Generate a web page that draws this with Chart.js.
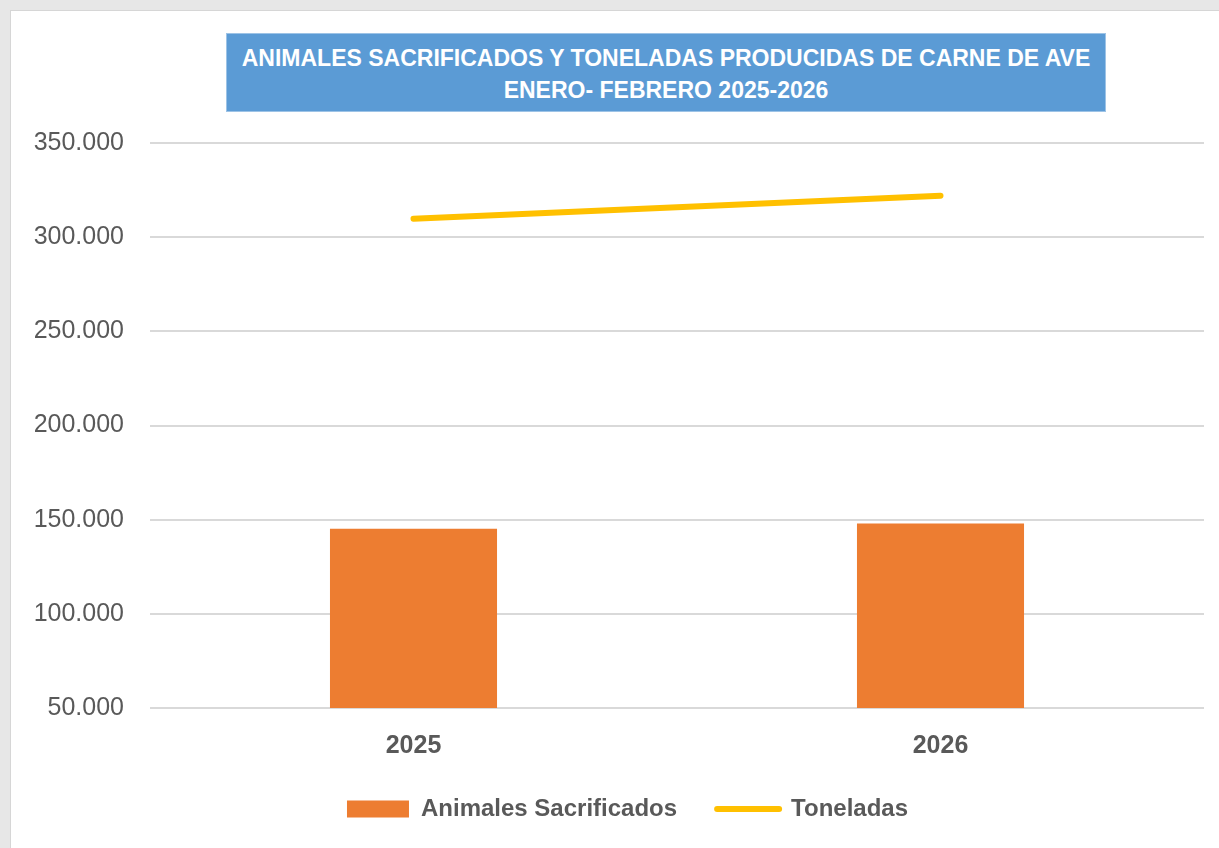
<!DOCTYPE html>
<html lang="es">
<head>
  <meta charset="UTF-8" />
  <title>Animales sacrificados y toneladas de carne de ave</title>
  <script src="https://cdn.jsdelivr.net/npm/chart.js"></script>
  <style>
    html, body {
      margin: 0;
      padding: 0;
      background: #e7e7e7;
      font-family: "Liberation Sans", Arial, sans-serif;
    }

    .frame {
      position: absolute;
      left: 10px;
      top: 10px;
      width: 1208px;
      height: 837px;
      background: #ffffff;
      border-left: 1px solid #d6d6d6;
      border-top: 1px solid #d6d6d6;
    }

    .frame canvas {
      position: absolute;
      left: 0;
      top: 0;
    }

    .title-box {
      position: absolute;
      left: 215px;
      top: 22px;
      width: 878px;
      height: 69px;
      padding-top: 8px;
      background: #5b9bd5;
      border: 1px solid #9dc3e6;
      color: #ffffff;
      font-weight: bold;
      font-size: 23px;
      line-height: 32px;
      text-align: center;
    }
  </style>
</head>
<body>
  <div class="frame">
    <canvas id="chart" width="1208" height="837"></canvas>
    <div class="title-box">ANIMALES SACRIFICADOS Y TONELADAS PRODUCIDAS DE CARNE DE AVE<br>ENERO- FEBRERO 2025-2026</div>
  </div>

  <script>
    // datos
    const years = ['2025', '2026'];
    const animales = [145200, 147900];
    const toneladas = [309800, 322000];
    const yTicks = [50000, 100000, 150000, 200000, 250000, 300000, 350000];

    const gray = '#595959';
    const font = '"Liberation Sans", Arial, sans-serif';

    function fmt(v) {
      return String(v).replace(/\B(?=(\d{3})+(?!\d))/g, '.');
    }

    // la leyenda de Excel no está centrada en el lienzo, se mueve un poco a la derecha
    const shiftLegend = {
      id: 'shiftLegend',
      afterLayout(chart) {
        if (chart.legend) {
          chart.legend.left += 20;
          chart.legend.right += 20;
        }
      }
    };

    function drawChart() {
      const ctx = document.getElementById('chart').getContext('2d');

      new Chart(ctx, {
        data: {
          labels: years,
          datasets: [
            {
              type: 'bar',
              label: 'Animales Sacrificados',
              data: animales,
              backgroundColor: '#ed7d31',
              borderWidth: 0,
              categoryPercentage: 1,
              barPercentage: 0.317
            },
            {
              type: 'line',
              label: 'Toneladas',
              data: toneladas,
              borderColor: '#ffc000',
              backgroundColor: '#ffc000',
              borderWidth: 6,
              borderCapStyle: 'round',
              pointRadius: 0,
              tension: 0
            }
          ]
        },
        options: {
          responsive: false,
          animation: false,
          layout: {
            padding: { top: 132, left: 0, right: 15, bottom: 17 }
          },
          scales: {
            x: {
              grid: { display: false, drawTicks: false },
              border: { display: false },
              ticks: {
                color: gray,
                padding: 23,
                font: { family: font, size: 25, weight: 'bold' }
              },
              afterFit: (s) => { s.height = 49; }
            },
            y: {
              min: yTicks[0],
              max: yTicks[yTicks.length - 1],
              afterBuildTicks: (s) => { s.ticks = yTicks.map(v => ({ value: v })); },
              grid: { color: '#d9d9d9', lineWidth: 2, drawTicks: false },
              border: { display: false },
              ticks: {
                color: gray,
                padding: 26,
                font: { family: font, size: 25 },
                callback: (v) => fmt(v)
              },
              afterFit: (s) => { s.width = 139; }
            }
          },
          plugins: {
            title: { display: false },
            tooltip: { enabled: false },
            legend: {
              position: 'bottom',
              labels: {
                color: gray,
                padding: 40,
                usePointStyle: true,
                pointStyleWidth: 62,
                boxHeight: 17,
                font: { family: font, size: 24, weight: 'bold' },
                generateLabels: (chart) => {
                  const items = Chart.defaults.plugins.legend.labels.generateLabels(chart);
                  items.forEach((it) => {
                    const ds = chart.data.datasets[it.datasetIndex];
                    if (ds.type === 'line') {
                      it.pointStyle = 'line';
                      it.strokeStyle = ds.borderColor;
                      it.lineWidth = 6;
                      it.lineCap = 'round';
                    } else {
                      it.pointStyle = 'rect';
                      it.fillStyle = ds.backgroundColor;
                      it.lineWidth = 0;
                    }
                  });
                  return items;
                }
              }
            }
          }
        },
        plugins: [shiftLegend]
      });
    }

    window.onload = drawChart;
  </script>
</body>
</html>
